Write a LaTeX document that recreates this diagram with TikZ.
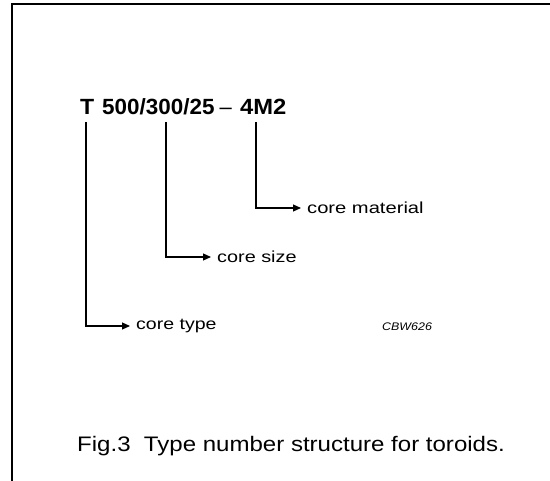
\documentclass[tikz,border=0pt]{standalone}
\usepackage{fontspec}
\setmainfont{Liberation Sans}
\usetikzlibrary{arrows.meta}
\newcommand{\wide}[2]{\scalebox{#1}[1]{#2}}
\begin{document}
\begin{tikzpicture}[x=1pt,y=-1pt,
  frame/.style={line width=2pt},
  ttl/.style={anchor=base west,inner sep=0pt,font=\fontsize{22}{26}\selectfont\bfseries},
  lab/.style={anchor=west,inner xsep=6pt,inner ysep=0pt,font=\fontsize{16}{19}\selectfont},
  conn/.style={line width=1.1pt,-{Triangle[length=8pt,width=7pt]}}]
\useasboundingbox (0,0) rectangle (550,481);
\draw[frame] (12,481) -- (12,4) -- (550,4);
\node[ttl] (tT) at (80,115) {\wide{1.05}{T}};
\node[ttl] (tnum) at (102,115) {\wide{1.02}{500/300/25}};
\node[ttl,font=\fontsize{22}{26}\selectfont] (tdash) at (219.5,115) {--};
\node[ttl] (tmat) at (240,115) {\wide{1.08}{4M2}};
\coordinate (t1) at (86,122);
\coordinate (t2) at (166,122);
\coordinate (t3) at (256,122);
\node[lab] (cmat) at (301,208) {\wide{1.26}{core material}};
\node[lab] (csize) at (211,257) {\wide{1.24}{core size}};
\node[lab] (ctype) at (130,326) {\wide{1.22}{core type}};
\draw[conn] (t3) |- (cmat.west);
\draw[conn] (t2) |- (csize.west);
\draw[conn] (t1) |- (ctype.west);
\node[anchor=base west,inner sep=0pt,font=\fontsize{11}{13}\selectfont\itshape] (code) at (382,331) {\wide{1.13}{CBW626}};
\node[anchor=base west,inner sep=0pt] (cap) at (77,452) {\wide{1.145}{\fontsize{21}{24}\selectfont Fig.3\ \ Type number structure for toroids.}};
\end{tikzpicture}
\end{document}
